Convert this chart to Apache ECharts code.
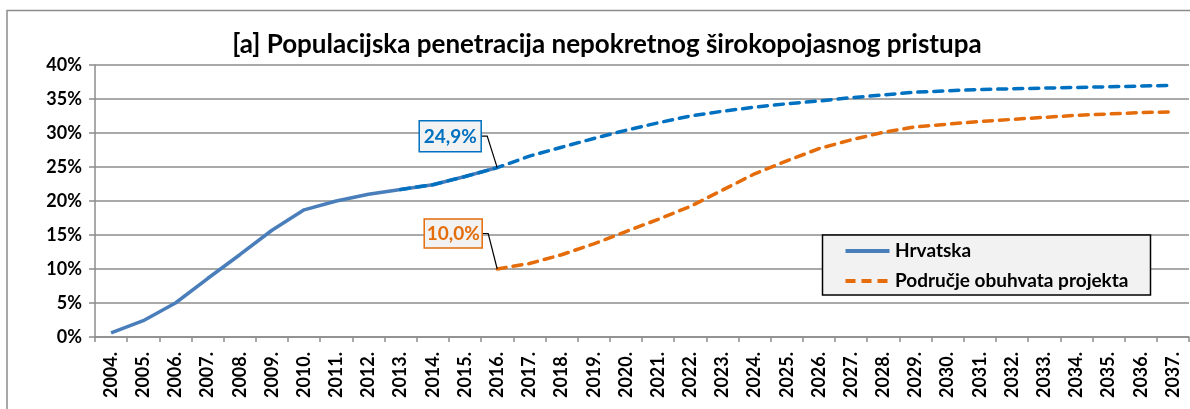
<!DOCTYPE html>
<html><head><meta charset="utf-8">
<script src="https://cdn.jsdelivr.net/npm/echarts@6/dist/echarts.min.js"></script>
<style>html,body{margin:0;padding:0;background:#fff}#c{width:1190px;height:409px}</style>
</head><body><div id="c"></div>
<script>
const years = ['2004.','2005.','2006.','2007.','2008.','2009.','2010.','2011.','2012.','2013.','2014.','2015.','2016.','2017.','2018.','2019.','2020.','2021.','2022.','2023.','2024.','2025.','2026.','2027.','2028.','2029.','2030.','2031.','2032.','2033.','2034.','2035.','2036.','2037.'];
const hrvatska = [0.6, 2.4, 5.0, 8.6, 12.1, 15.7, 18.7, 20.0, 21.0, 21.7, 22.4, 23.6, 24.9, null, null, null, null, null, null, null, null, null, null, null, null, null, null, null, null, null, null, null, null, null];
const hrvatskaProjekcija = [null, null, null, null, null, null, null, null, null, 21.7, 22.4, 23.6, 24.9, 26.6, 27.9, 29.2, 30.4, 31.5, 32.5, 33.2, 33.8, 34.3, 34.7, 35.2, 35.6, 36.0, 36.2, 36.4, 36.5, 36.6, 36.7, 36.8, 36.9, 37.0];
const podrucje = [null, null, null, null, null, null, null, null, null, null, null, null, 10.0, 10.8, 12.1, 13.7, 15.5, 17.3, 19.2, 21.6, 24.0, 25.9, 27.7, 29.0, 30.1, 30.9, 31.3, 31.7, 32.0, 32.3, 32.6, 32.8, 33.0, 33.1];
const seriesNames = ['Hrvatska', 'Područje obuhvata projekta'];
const titleText = '[a] Populacijska penetracija nepokretnog širokopojasnog pristupa';
const calloutIndex = 12; // 2016.

const FONT = 'Lato, "Open Sans", sans-serif';
const BLUE = '#4A7EBB', BLUE2 = '#0070C0', ORANGE = '#E46C0A', GRID = '#8C8C8C';
const DASH = [9, 7];

const chart = echarts.init(document.getElementById('c'), null, {renderer: 'canvas'});
chart.setOption({
  animation: false,
  backgroundColor: '#fff',
  title: {
    text: titleText, left: 602, textAlign: 'center', top: 27,
    textStyle: {fontFamily: FONT, fontWeight: 'bold', fontSize: 26, color: '#000'}
  },
  grid: {left: 95, right: 1, top: 65, bottom: 72},
  xAxis: {
    type: 'category', data: years, boundaryGap: true,
    axisLine: {lineStyle: {color: GRID, width: 1.5}},
    axisTick: {show: true, length: 5, lineStyle: {color: GRID, width: 1.5}},
    axisLabel: {rotate: 90, interval: 0, margin: 15, fontFamily: FONT, fontWeight: 'bold', fontSize: 18, color: '#000'}
  },
  yAxis: {
    type: 'value', min: 0, max: 40, interval: 5,
    axisLine: {show: true, lineStyle: {color: GRID, width: 1.5}},
    axisTick: {show: true, length: 6, lineStyle: {color: GRID, width: 1.5}},
    splitLine: {lineStyle: {color: GRID, width: 1.5}},
    axisLabel: {formatter: '{value}%', margin: 13, fontFamily: FONT, fontWeight: 'bold', fontSize: 18, color: '#000'}
  },
  series: [
    {name: seriesNames[0], type: 'line', data: hrvatska, symbol: 'none', z: 2,
     lineStyle: {color: BLUE, width: 3.5}, itemStyle: {color: BLUE}},
    {name: 'Hrvatska (projekcija)', type: 'line', data: hrvatskaProjekcija, symbol: 'none', z: 3,
     lineStyle: {color: BLUE2, width: 3.5, type: DASH, cap: 'round'}, itemStyle: {color: BLUE2}},
    {name: seriesNames[1], type: 'line', data: podrucje, symbol: 'none', z: 3,
     lineStyle: {color: ORANGE, width: 3.5, type: DASH, cap: 'round'}, itemStyle: {color: ORANGE}}
  ]
});

function callout(val, idx, color, dx, dy, w, h) {
  const p = chart.convertToPixel({xAxisIndex: 0, yAxisIndex: 0}, [idx, val]);
  const cx = p[0] + dx, cy = p[1] + dy;
  const txt = val.toFixed(1).replace('.', ',') + '%';
  return [
    {type: 'polyline', silent: true, z: 20,
     shape: {points: [[cx + w / 2, cy], [cx + w / 2 + 6, cy], [p[0], p[1]]]},
     style: {stroke: '#000', lineWidth: 1.2, fill: null}},
    {type: 'rect', silent: true, z: 21,
     shape: {x: cx - w / 2, y: cy - h / 2, width: w, height: h},
     style: {fill: '#F2F2F2', stroke: color, lineWidth: 1.5}},
    {type: 'text', silent: true, z: 22, x: cx, y: cy + 0.5,
     style: {text: txt, fill: color, fontFamily: FONT, fontWeight: 'bold', fontSize: 19, align: 'center', verticalAlign: 'middle'}}
  ];
}

// Legend box (drawn as graphic for exact Excel-like layout)
const LX = 822.5, LY = 235, LW = 328, LH = 60;
const legendItems = [
  {name: seriesNames[0], color: BLUE, dash: null, y: LY + 16},
  {name: seriesNames[1], color: ORANGE, dash: [10, 6], y: LY + 46}
];
const legendGraphics = [
  {type: 'rect', silent: true, z: 30, shape: {x: LX, y: LY, width: LW, height: LH},
   style: {fill: '#F2F2F2', stroke: '#000', lineWidth: 1.5}}
];
legendItems.forEach(it => {
  legendGraphics.push(
    {type: 'line', silent: true, z: 31, shape: {x1: LX + 23, y1: it.y, x2: LX + 67, y2: it.y},
     style: {stroke: it.color, lineWidth: 4, lineDash: it.dash}},
    {type: 'text', silent: true, z: 31, x: LX + 72.5, y: it.y,
     style: {text: it.name, fill: '#000', fontFamily: FONT, fontWeight: 'bold', fontSize: 19, align: 'left', verticalAlign: 'middle'}}
  );
});

const graphics = [
  {type: 'rect', silent: true, z: 0, shape: {x: 7, y: 10.5, width: 1300, height: 600},
   style: {fill: null, stroke: GRID, lineWidth: 1.5}}
].concat(
  callout(hrvatska[calloutIndex], calloutIndex, BLUE2, -47, -31.5, 62, 31),
  callout(podrucje[calloutIndex], calloutIndex, ORANGE, -44, -35.5, 58, 29),
  legendGraphics
);
chart.setOption({graphic: graphics});
</script>
</body></html>
